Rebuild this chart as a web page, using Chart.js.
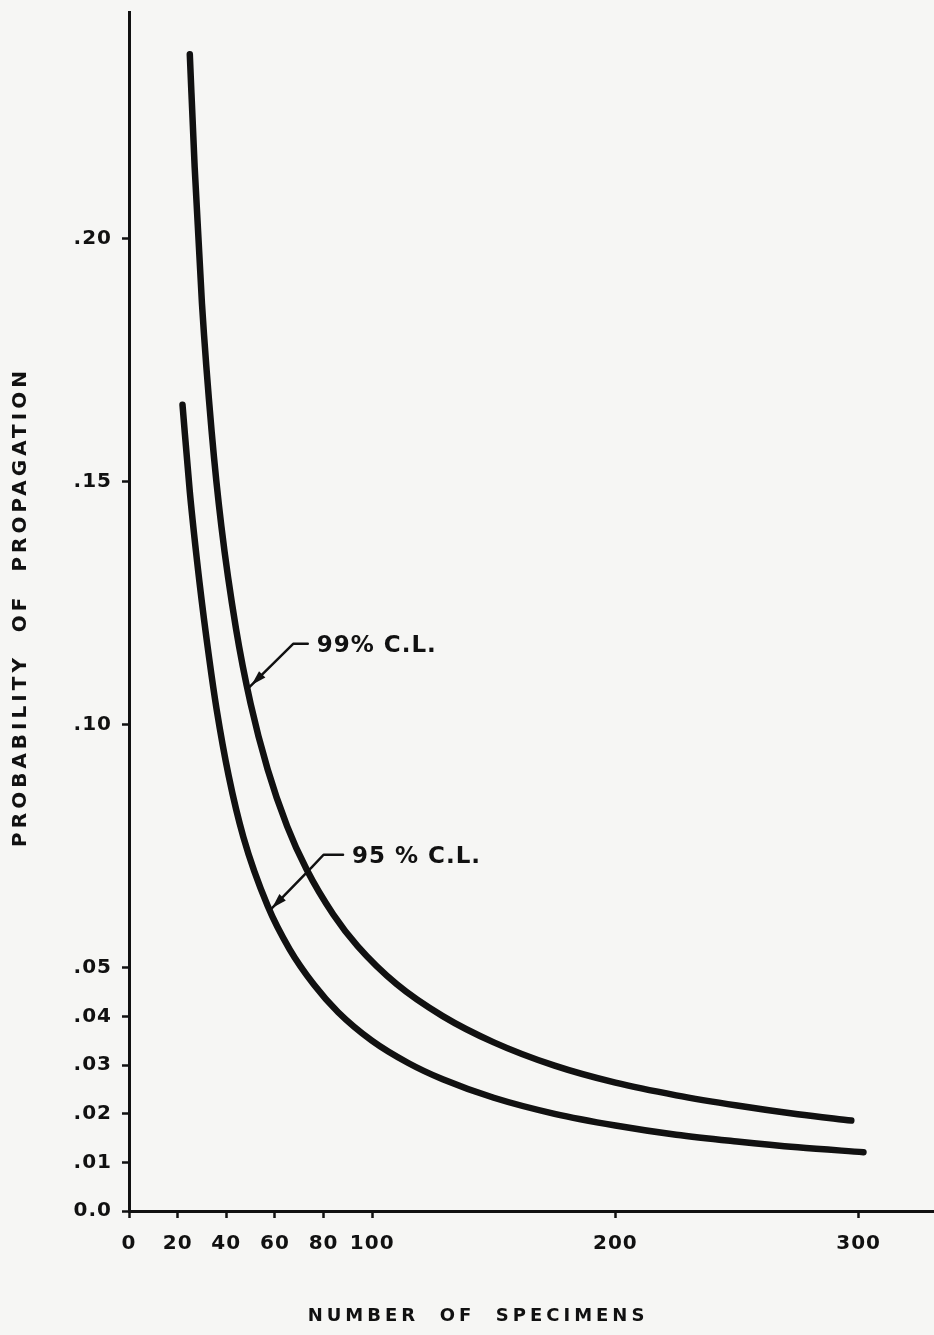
<!DOCTYPE html>
<html>
<head>
<meta charset="utf-8">
<script src="https://cdn.jsdelivr.net/npm/chart.js@4.4.0/dist/chart.umd.min.js"></script>
<style>
  html, body { margin: 0; padding: 0; background: #f6f6f4; }
  #wrap { position: relative; width: 934px; height: 1335px; }
</style>
</head>
<body>
<div id="wrap"><canvas id="probChart"></canvas></div>
<script>
// values
var n99 = [25, 27, 30, 34, 38, 44, 50, 57, 65, 73, 84, 94, 110, 129, 150, 175, 200, 225, 250, 275, 297];
var p99 = [.238, .2148, .1867, .1603, .1408, .1198, .1044, .0909, .0792, .0703, .0610, .0545, .0467, .0401, .0347, .0299, .0264, .0238, .0217, .0199, .0186];
var n95 = [22, 25, 29, 33, 36, 41, 47, 57, 66, 76, 86, 100, 115, 129, 150, 175, 200, 225, 250, 275, 302];
var p95 = [.1659, .1480, .1293, .1136, .1033, .0895, .0770, .0628, .0539, .0466, .0409, .0350, .0304, .0271, .0233, .0200, .0176, .0157, .0143, .0131, .0121];

var xTickVals = [0, 20, 40, 60, 80, 100, 200, 300];
var xTickLabels = ['0', '20', '40', '60', '80', '100', '200', '300'];
var yTickVals = [0, .01, .02, .03, .04, .05, .10, .15, .20];
var yTickLabels = ['0.0', '.01', '.02', '.03', '.04', '.05', '.10', '.15', '.20'];
var curveLabels = ['99% C.L.', '95 % C.L.'];

// leader lines in data units: arrow tip on the curve first
var leader99 = [[49.5, 0.1078], [67.5, 0.1167], [73.5, 0.1167]];
var leader95 = [[58, 0.0619], [75.3, 0.0708], [80, 0.0733], [88, 0.0733]];

var ink = '#111111';
var letterFont = '"DejaVu Sans", sans-serif';

function toPoints(xs, ys) {
    return xs.map(function (x, i) { return { x: x, y: ys[i] }; });
}

var leaderPlugin = {
    id: 'leaders',
    beforeDraw: function (chart) {
        chart.ctx.letterSpacing = '1px';
    },
    afterDraw: function (chart) {
        var ctx = chart.ctx, xs = chart.scales.x, ys = chart.scales.y;
        [[leader99, curveLabels[0]], [leader95, curveLabels[1]]].forEach(function (item) {
            var pts = item[0].map(function (p) {
                return [xs.getPixelForValue(p[0]), ys.getPixelForValue(p[1])];
            });
            ctx.save();
            ctx.strokeStyle = ink;
            ctx.fillStyle = ink;
            ctx.lineWidth = 2.5;
            ctx.lineJoin = 'round';
            ctx.lineCap = 'round';
            ctx.beginPath();
            ctx.moveTo(pts[0][0], pts[0][1]);
            for (var i = 1; i < pts.length; i++) ctx.lineTo(pts[i][0], pts[i][1]);
            ctx.stroke();

            // arrow head near the curve
            var a = Math.atan2(pts[1][1] - pts[0][1], pts[1][0] - pts[0][0]);
            var tx = pts[0][0] + Math.cos(a) * 3, ty = pts[0][1] + Math.sin(a) * 3;
            var bx = tx + Math.cos(a) * 15, by = ty + Math.sin(a) * 15;
            ctx.beginPath();
            ctx.moveTo(tx, ty);
            ctx.lineTo(bx + Math.sin(a) * 4.5, by - Math.cos(a) * 4.5);
            ctx.lineTo(bx - Math.sin(a) * 4.5, by + Math.cos(a) * 4.5);
            ctx.closePath();
            ctx.fill();

            var last = pts[pts.length - 1];
            ctx.letterSpacing = '1px';
            ctx.font = 'bold 23px ' + letterFont;
            ctx.textAlign = 'left';
            ctx.textBaseline = 'middle';
            ctx.fillText(item[1], last[0] + 9, last[1] + 2);
            ctx.restore();
        });

        // axis titles
        ctx.save();
        ctx.fillStyle = ink;
        ctx.letterSpacing = '4px';
        ctx.textAlign = 'center';
        ctx.textBaseline = 'middle';
        ctx.font = 'bold 18px ' + letterFont;
        ctx.fillText('NUMBER  OF  SPECIMENS', 478, 1316);
        ctx.translate(21, 607);
        ctx.rotate(-Math.PI / 2);
        ctx.font = 'bold 20px ' + letterFont;
        ctx.fillText('PROBABILITY  OF  PROPAGATION', 0, 0);
        ctx.restore();
        ctx.letterSpacing = '0px';
    }
};

var ctx = document.getElementById('probChart').getContext('2d');
var chart = new Chart(ctx, {
    type: 'scatter',
    data: {
        datasets: [{
            label: curveLabels[0],
            data: toPoints(n99, p99),
            showLine: true,
            borderColor: ink,
            borderWidth: 6.5,
            borderCapStyle: 'round',
            cubicInterpolationMode: 'monotone',
            pointRadius: 0
        }, {
            label: curveLabels[1],
            data: toPoints(n95, p95),
            showLine: true,
            borderColor: ink,
            borderWidth: 6.5,
            borderCapStyle: 'round',
            cubicInterpolationMode: 'monotone',
            pointRadius: 0
        }]
    },
    options: {
        responsive: true,
        maintainAspectRatio: false,
        animation: false,
        layout: { padding: { top: 12, right: 0, left: 0, bottom: 0 } },
        plugins: {
            legend: { display: false },
            tooltip: { enabled: false }
        },
        scales: {
            x: {
                type: 'linear',
                min: 0,
                max: 331,
                afterBuildTicks: function (s) {
                    s.ticks = xTickVals.map(function (v) { return { value: v }; });
                },
                afterFit: function (s) {
                    s.height = 124;
                    s.paddingLeft = 0;
                    s.paddingRight = 0;
                },
                ticks: {
                    autoSkip: false,
                    maxRotation: 0,
                    padding: 14,
                    color: ink,
                    font: { family: letterFont, size: 20, weight: 'bold' },
                    callback: function (v) { return xTickLabels[xTickVals.indexOf(v)]; }
                },
                grid: { drawOnChartArea: false, tickLength: 7, tickWidth: 2.5, tickColor: ink },
                border: { color: ink, width: 3 }
            },
            y: {
                min: 0,
                max: 0.2467,
                afterBuildTicks: function (s) {
                    s.ticks = yTickVals.map(function (v) { return { value: v }; });
                },
                afterFit: function (s) {
                    s.width = 129;
                    s.paddingTop = 0;
                    s.paddingBottom = 0;
                },
                ticks: {
                    autoSkip: false,
                    padding: 10,
                    color: ink,
                    font: { family: letterFont, size: 20, weight: 'bold' },
                    callback: function (v) { return yTickLabels[yTickVals.indexOf(v)]; }
                },
                grid: { drawOnChartArea: false, tickLength: 7, tickWidth: 2.5, tickColor: ink },
                border: { color: ink, width: 3 }
            }
        }
    },
    plugins: [leaderPlugin]
});
</script>
</body>
</html>
